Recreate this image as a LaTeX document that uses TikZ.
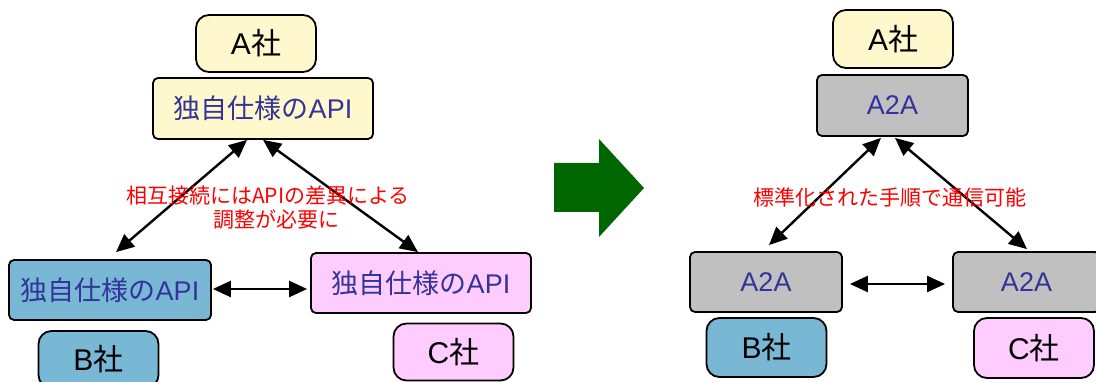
\documentclass[tikz,border=0pt]{standalone}
\usepackage{fontspec}
\setmainfont{Liberation Sans}
\newfontfamily\jp{Noto Sans CJK JP}
\usetikzlibrary{arrows.meta,calc}
\definecolor{ayel}{HTML}{FFF8CC}
\definecolor{bblue}{HTML}{78B8D4}
\definecolor{cpink}{HTML}{FFCCFF}
\definecolor{grayfill}{HTML}{C0C0C0}
\definecolor{txtblue}{HTML}{333399}
\definecolor{darkgreen}{HTML}{006600}
\begin{document}
\begin{tikzpicture}[x=1pt,y=-1pt,
  company/.style={draw=black, line width=1.8pt, rounded corners=13pt, inner sep=0pt,
    minimum width=120pt, minimum height=57pt, font=\fontsize{30}{32}\selectfont, text=black},
  apibox/.style={draw=black, line width=1.8pt, rounded corners=5pt, inner sep=0pt,
    minimum height=61pt, font=\fontsize{27}{30}\selectfont, text=txtblue},
  link/.style={line width=2.4pt, {Triangle[length=18pt,width=16pt]}-{Triangle[length=18pt,width=16pt]}},
  note/.style={text=red, font=\jp\fontsize{21}{24}\selectfont, align=center, inner sep=0pt}
]
\useasboundingbox (0,0) rectangle (1096,382);
% ---------- left ----------
\node[company, fill=ayel] (lcoA) at (256,43.5) {A{\jp 社}};
\node[apibox, fill=ayel, minimum width=220pt] (apiA) at (263,108.5) {{\jp 独自仕様の}API};
\node[apibox, fill=bblue, minimum width=202pt, minimum height=60pt] (apiB) at (110,290) {{\jp 独自仕様の}API};
\node[apibox, fill=cpink, minimum width=220pt, minimum height=60pt] (apiC) at (421,283) {{\jp 独自仕様の}API};
\node[company, fill=bblue] (lcoB) at (98.5,359.5) {B{\jp 社}};
\node[company, fill=cpink] (lcoC) at (453.5,352) {C{\jp 社}};
\draw[link] ($(apiA.south)+(-16,0)$) -- ($(apiB.north)+(6,-7)$);
\draw[link] (apiA.south) -- ($(apiC.north)+(-3,0)$);
\draw[link] ($(apiB.east)+(1,-1)$) -- ($(apiC.west)+(-3,6)$);
\node[note] (lnote) at (268,207.5) {相互接続にはAPIの差異による\\\hspace*{16pt}調整が必要に};
% ---------- arrow ----------
\fill[darkgreen] (554,163) -- (599,163) -- (599,139) -- (644,188) -- (599,237) -- (599,212) -- (554,212) -- cycle;
% ---------- right ----------
\node[company, fill=ayel, minimum height=58pt] (rcoA) at (893,39) {A{\jp 社}};
\node[apibox, fill=grayfill, minimum width=151pt] (gA) at (892.5,105.5) {A2A};
\node[apibox, fill=grayfill, minimum width=152pt, minimum height=60pt] (gB) at (766,282) {A2A};
\node[apibox, fill=grayfill, minimum width=147pt, minimum height=60pt] (gC) at (1026.5,282) {A2A};
\node[company, fill=bblue, minimum height=59pt] (rcoB) at (766.5,347.5) {B{\jp 社}};
\node[company, fill=cpink, minimum height=60pt] (rcoC) at (1034,348) {C{\jp 社}};
\draw[link] ($(gA.south)+(-11.5,1)$) -- ($(gB.north)+(3,-6)$);
\draw[link] ($(gA.south)+(2.5,1)$) -- ($(gC.north)+(0.5,-2)$);
\draw[link] ($(gB.east)+(7,2)$) -- ($(gC.west)+(-7,2)$);
\node[note] (rnote) at (890,197) {標準化された手順で通信可能};
\end{tikzpicture}
\end{document}
